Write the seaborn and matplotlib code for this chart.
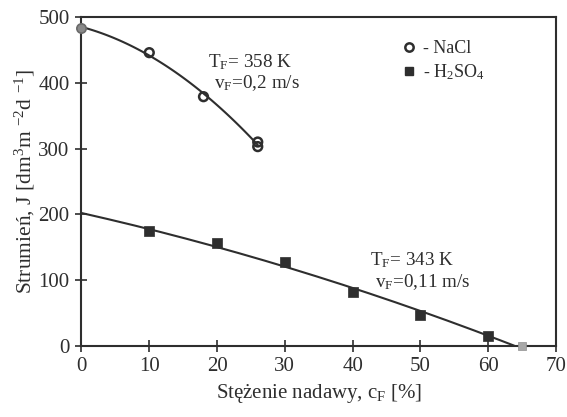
import numpy as np
import pandas as pd
import matplotlib
matplotlib.use("Agg")
import matplotlib.pyplot as plt
import seaborn as sns
from matplotlib.lines import Line2D

# ---- data ----
nacl_c = [0, 10, 18, 26, 26]
nacl_j = [484, 446, 379, 310, 303]
h2so4_c = [0, 10, 20, 30, 40, 50, 60, 65]
h2so4_j = [200, 175, 156, 128, 81, 46, 15, 0]
xticks = [0, 10, 20, 30, 40, 50, 60, 70]
yticks = [0, 100, 200, 300, 400, 500]

sns.set_theme(style="ticks")
plt.rcParams['font.family'] = ['Liberation Serif', 'DejaVu Serif']
plt.rcParams['mathtext.fontset'] = 'custom'
plt.rcParams['mathtext.rm'] = 'Liberation Serif'
plt.rcParams['mathtext.it'] = 'Liberation Serif:italic'

ink = '#2e2e2e'
fig = plt.figure(figsize=(5.67, 4.17), dpi=100)
ax = fig.add_axes([0.1437, 0.171, 0.9806 - 0.1437, 0.9588 - 0.171])

df_n = pd.DataFrame({'c': nacl_c, 'J': nacl_j})
df_h = pd.DataFrame({'c': h2so4_c, 'J': h2so4_j})

# fitted trend curves (regression on the data)
pn = np.polyfit(df_n['c'], df_n['J'], 2)
xn = np.linspace(0, 26, 100)
ph = np.polyfit(df_h['c'], df_h['J'], 2)
rts = np.roots(ph)
xend = rts[(np.abs(rts.imag) < 1e-9) & (rts.real > 40)].real.min()
xh = np.linspace(0, xend, 150)
sns.lineplot(x=xn, y=np.polyval(pn, xn), ax=ax, color=ink, lw=1.5)
sns.lineplot(x=xh, y=np.polyval(ph, xh), ax=ax, color=ink, lw=1.5)

sns.scatterplot(data=df_n.iloc[1:], x='c', y='J', ax=ax, marker='o', s=40,
                facecolor='none', edgecolor=ink, linewidth=1.8, zorder=5)
sns.scatterplot(data=df_n.iloc[:1], x='c', y='J', ax=ax, marker='o', s=45,
                color='#8a8a8a', edgecolor='#6a6a6a', linewidth=1.2, zorder=5)
sns.scatterplot(data=df_h.iloc[1:-1], x='c', y='J', ax=ax, marker='s', s=45,
                color=ink, edgecolor=ink, linewidth=0.5, zorder=5)
sns.scatterplot(data=df_h.iloc[-1:], x='c', y='J', ax=ax, marker='s', s=40,
                color='#a8a8a8', edgecolor='#909090', linewidth=0.5, zorder=5)
for coll in ax.collections:
    coll.set_clip_on(False)

ax.set_xlim(0, 70)
ax.set_ylim(0, 500)
ax.set_xticks(xticks)
ax.set_yticks(yticks)
ax.tick_params(direction='inout', length=9, width=1.2, colors=ink,
               labelsize=15, labelcolor=ink, pad=4)
for s in ax.spines.values():
    s.set_color(ink)
    s.set_linewidth(1.5)

ax.set_xlabel(r'Stężenie nadawy, c$_\mathregular{F}$ [%]', fontsize=15, color=ink, labelpad=4)
ax.set_ylabel(r'Strumień, J [dm$^\mathregular{3}$m $^\mathregular{-2}$d $^\mathregular{-1}$]',
              fontsize=15.5, color=ink, labelpad=1)

ax.text(18.7, 432, r'T$_\mathregular{F}$= 358 K', fontsize=13.8, color=ink, va='center')
ax.text(19.5, 400, r'v$_\mathregular{F}$=0,2 m/s', fontsize=13.8, color=ink, va='center')
ax.text(42.5, 130, r'T$_\mathregular{F}$= 343 K', fontsize=13.8, color=ink, va='center')
ax.text(43.3, 97, r'v$_\mathregular{F}$=0,11 m/s', fontsize=13.8, color=ink, va='center')

handles = [Line2D([], [], ls='none', marker='o', mfc='none', mec=ink, mew=1.8, ms=6),
           Line2D([], [], ls='none', marker='s', mfc=ink, mec=ink, ms=6)]
ax.legend(handles, ['- NaCl', r'- H$_\mathregular{2}$SO$_\mathregular{4}$'],
          loc='upper left', bbox_to_anchor=(0.64, 0.98), frameon=False,
          handlelength=0.8, handletextpad=0.4, fontsize=13, labelspacing=0.3,
          labelcolor=ink)

fig.savefig('out.png', dpi=100, facecolor='white')
